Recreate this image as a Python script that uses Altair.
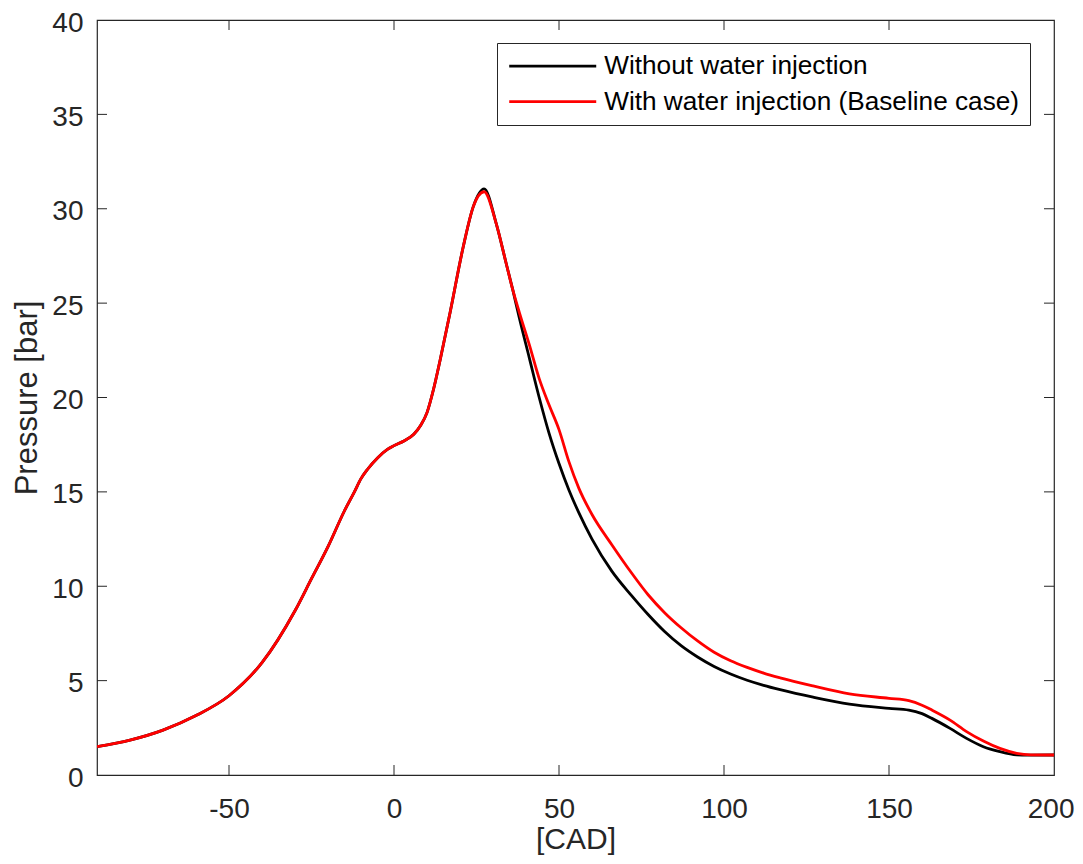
import altair as alt
import pandas as pd

series_names = ["Without water injection", "With water injection (Baseline case)"]
series_colors = ["#000000", "#ff0000"]

# shared part of both curves (identical until ~36 CAD)
shared_cad = [-90, -80, -70, -60, -50, -40, -30, -25, -20, -15, -12, -10, -8, -5, -2, 0,
              3, 6, 8, 10, 12, 14, 17, 21, 24, 27.3, 31, 34, 36]
shared_p = [1.5, 1.85, 2.38, 3.15, 4.2, 5.95, 8.7, 10.4, 12.1, 14.0, 15.0, 15.7, 16.2,
            16.8, 17.25, 17.45, 17.7, 18.05, 18.5, 19.2, 20.45, 22.0, 24.5, 28.0, 30.1,
            30.95, 29.2, 27.1, 25.7]
peak_black = 31.05
peak_red = 30.9

black_tail_cad = [38, 41, 44, 47, 50, 53, 56, 60, 66, 72, 77, 82, 87, 92, 97, 102, 107, 112,
                  117, 127, 138, 150, 156, 160, 163, 168.5, 173.5, 178.6, 183.6, 188.7, 192,
                  200]
black_tail_p = [24.2, 22.1, 20.0, 18.1, 16.5, 15.1, 13.9, 12.5, 10.8, 9.5, 8.5, 7.6, 6.85,
                6.25, 5.75, 5.35, 5.02, 4.75, 4.52, 4.12, 3.75, 3.53, 3.44, 3.25, 3.0, 2.47,
                1.94, 1.5, 1.24, 1.07, 1.05, 1.06]

red_tail_cad = [38, 41, 44, 47, 50, 53, 56, 60, 66, 72, 77, 82, 87, 92, 97, 102, 107, 112,
                117, 127, 138, 150, 156, 160, 163, 168.5, 173.5, 178.6, 183.6, 188.7, 193,
                200]
red_tail_p = [24.5, 22.8, 21.0, 19.6, 18.3, 16.6, 15.2, 13.8, 12.2, 10.7, 9.55, 8.6, 7.8,
              7.1, 6.5, 6.05, 5.7, 5.4, 5.15, 4.72, 4.3, 4.06, 3.94, 3.7, 3.44, 2.91, 2.3,
              1.8, 1.41, 1.15, 1.07, 1.06]

x_tick_values = [-50, 0, 50, 100, 150, 200]
y_tick_values = [0, 5, 10, 15, 20, 25, 30, 35, 40]
x_inner_ticks = [-50, 0, 50, 100, 150]
y_inner_ticks = [5, 10, 15, 20, 25, 30, 35]

peak_idx = shared_cad.index(27.3)
black_shared = list(shared_p)
black_shared[peak_idx] = peak_black
red_shared = list(shared_p)
red_shared[peak_idx] = peak_red

df_black = pd.DataFrame({"cad": shared_cad + black_tail_cad,
                         "p": black_shared + black_tail_p,
                         "series": series_names[0]})
df_red = pd.DataFrame({"cad": shared_cad + red_tail_cad,
                       "p": red_shared + red_tail_p,
                       "series": series_names[1]})

W, H = 957, 755
AX = "#262626"
FONT = "Liberation Sans"

xscale = alt.Scale(domain=[-90, 200], nice=False, zero=False)
yscale = alt.Scale(domain=[0, 40], nice=False, zero=True)
cscale = alt.Scale(domain=series_names, range=series_colors)

xaxis = alt.Axis(values=x_tick_values, title="[CAD]", ticks=False, domain=False,
                 grid=False, labelPadding=20, labelFlush=True, labelFlushOffset=20,
                 labelExpr="datum.value", titleY=73, titleBaseline="alphabetic",
                 titleFontSize=30)
yaxis = alt.Axis(values=y_tick_values, title="Pressure [bar]", ticks=False, domain=False,
                 grid=False, labelPadding=14, titlePadding=8, labelFlush=False,
                 labelOffset=3, labelExpr="datum.value", titleFontSize=31)

legend = alt.Legend(title=None, orient="none", legendX=400, legendY=23,
                    symbolType="M-1,0H7", symbolSize=473, symbolStrokeWidth=2.8,
                    labelFontSize=26.2, labelFont=FONT, labelColor="#000000",
                    labelOffset=71, rowPadding=8.5, padding=10,
                    strokeColor=AX, fillColor="#ffffff", labelLimit=1000)


def line_layer(df):
    return alt.Chart(df).mark_line(interpolate="monotone", strokeWidth=2.8, clip=True).encode(
        x=alt.X("cad:Q", scale=xscale, axis=xaxis),
        y=alt.Y("p:Q", scale=yscale, axis=yaxis),
        color=alt.Color("series:N", scale=cscale, legend=legend),
    )


xt = pd.DataFrame({"v": x_inner_ticks})
yt = pd.DataFrame({"v": y_inner_ticks})
TL = 10
tick_style = dict(color=AX, strokeWidth=1)

bottom_ticks = alt.Chart(xt).mark_rule(**tick_style).encode(
    x=alt.X("v:Q", scale=xscale), y=alt.value(H), y2=alt.value(H - TL))
top_ticks = alt.Chart(xt).mark_rule(**tick_style).encode(
    x=alt.X("v:Q", scale=xscale), y=alt.value(0), y2=alt.value(TL))
left_ticks = alt.Chart(yt).mark_rule(**tick_style).encode(
    y=alt.Y("v:Q", scale=yscale), x=alt.value(0), x2=alt.value(TL))
right_ticks = alt.Chart(yt).mark_rule(**tick_style).encode(
    y=alt.Y("v:Q", scale=yscale), x=alt.value(W), x2=alt.value(W - TL))

chart = alt.layer(
    bottom_ticks, top_ticks, left_ticks, right_ticks,
    line_layer(df_black), line_layer(df_red),
).properties(
    width=W, height=H,
    padding={"left": 89, "top": 12, "right": 21, "bottom": 80},
    autosize=alt.AutoSizeParams(type="none"),
    background="#ffffff",
).configure_view(
    stroke=AX, strokeWidth=1.2
).configure_axis(
    labelFont=FONT, labelFontSize=28, labelColor=AX,
    titleFont=FONT, titleColor=AX, titleFontWeight="normal",
)

chart.save("out.html", embed_options={"renderer": "svg", "actions": False})
